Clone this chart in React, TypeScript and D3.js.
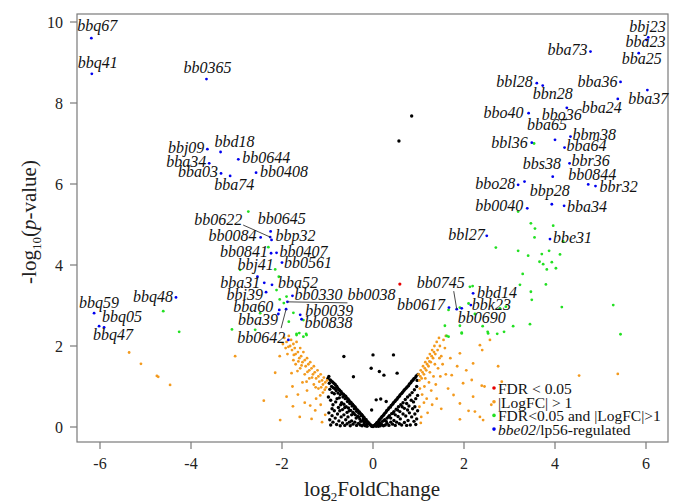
import React from "react";
import * as d3 from "d3";

// ---------- DATA ----------
const xTicks = [-6, -4, -2, 0, 2, 4, 6];
const yTicks = [0, 2, 4, 6, 8, 10];

// bbe02/lp56-regulated genes (blue)
const geneNames = [
  "bbq67", "bbq41", "bb0365", "bbj09", "bbd18", "bb0644", "bba34", "bba03", "bba74", "bb0408",
  "bb0622", "bb0645", "bb0084", "bbp32", "bb0841", "bb0407", "bb0561", "bbj41", "bba31", "bba52",
  "bbi39", "bb0330", "bb0038", "bba60", "bba39", "bb0039", "bb0838", "bb0642", "bbq48", "bbq59",
  "bbq05", "bbq47", "bbj23", "bba23", "bba25", "bba73", "bbl28", "bbn28", "bba36", "bba37",
  "bba24", "bbo40", "bbo36", "bba65", "bbl36", "bbm38", "bba64", "bbr36", "bbs38", "bb0844",
  "bbr32", "bbo28", "", "bbp28", "bba34 ", "bb0040", "bbl27", "bbe31", "bb0745", "bb0617",
  "bbd14", "bbk23", "bb0690", " ",
];
const geneFC = [
  -6.19, -6.18, -3.66, -3.64, -3.35, -2.96, -3.6, -3.34, -3.14, -2.57,
  -2.26, -2.25, -2.47, -2.23, -2.24, -2.12, -2.0, -2.54, -2.39, -2.22,
  -2.35, -1.77, -1.88, -2.06, -1.91, -1.6, -1.57, -1.86, -4.33, -6.13,
  -5.91, -6.02, 6.05, 6.01, 5.84, 4.78, 3.6, 3.73, 5.44, 6.03,
  5.38, 3.42, 4.26, 4.0, 3.49, 4.34, 4.21, 4.32, 3.95, 4.73,
  4.89, 3.19, 3.33, 3.93, 4.2, 3.39, 2.5, 3.89, 1.84, 1.67,
  2.2, 2.15, 1.95, -2.08,
];
const geneLogP = [
  9.6, 8.72, 8.59, 6.86, 6.79, 6.61, 6.51, 6.26, 6.2, 6.28,
  4.69, 4.83, 4.68, 4.62, 4.29, 4.3, 4.06, 3.71, 3.56, 3.51,
  3.33, 3.24, 3.09, 2.89, 2.91, 2.77, 2.66, 2.15, 3.2, 2.81,
  2.46, 2.49, 9.62, 9.56, 9.23, 9.27, 8.49, 8.43, 8.52, 8.32,
  8.1, 7.75, 7.88, 7.09, 7.02, 7.17, 6.9, 6.51, 6.18, 5.99,
  5.95, 5.98, 6.06, 5.5, 5.46, 5.4, 4.72, 4.64, 2.91, 2.95,
  3.3, 3.01, 2.93, 2.79,
];

// FDR<0.05 and |LogFC|>1 (green)
const sigPoints: [number, number][] = [
  [-4.61, 2.86], [-4.26, 2.35], [-3.1, 2.41], [-2.59, 2.4], [-2.92, 3.88], [-2.74, 5.32],
  [-2.3, 4.44], [-2.15, 3.89], [-2.07, 3.71], [-2.12, 3.38], [-1.9, 3.22], [-1.96, 3.06],
  [-2.48, 2.81], [-1.75, 2.82], [-1.68, 2.3], [-1.47, 2.3], [-1.53, 2.64], [-1.62, 2.32],
  [-2.05, 3.15], [-1.85, 2.6], [-1.68, 2.27], [-1.53, 2.23], [-1.46, 2.27],
  [3.47, 5.03], [3.56, 4.9], [3.96, 4.97], [3.55, 4.68], [4.18, 4.58], [2.7, 4.43],
  [3.19, 4.35], [3.41, 4.23], [3.71, 4.27], [3.87, 4.35], [4.11, 4.26], [3.66, 4.08],
  [3.74, 4.02], [3.93, 4.07], [3.82, 3.89], [4.02, 3.92], [3.29, 3.78], [3.23, 3.51],
  [3.8, 3.52], [3.47, 3.34], [2.13, 3.46], [2.19, 3.48], [3.49, 3.14], [4.15, 2.96],
  [5.28, 3.01], [1.66, 2.89], [1.91, 2.95], [2.1, 3.05], [2.24, 2.79], [2.79, 2.93],
  [2.92, 2.97], [1.58, 2.5], [1.91, 2.5], [2.41, 2.49], [3.08, 2.49], [3.45, 2.54],
  [2.52, 2.35], [2.73, 2.3], [2.88, 2.35], [1.95, 2.31], [5.44, 2.29], [1.66, 2.23],
  [3.19, 5.32], [3.54, 7.0], [1.62, 2.25], [1.95, 2.33], [2.53, 2.31],
];

// |LogFC|>1 (orange)
const fcPoints: [number, number][] = [
  [-1.95, 2.2], [-1.9, 2.1], [-1.85, 2.25], [-1.82, 2.0], [-1.8, 2.15], [-1.78, 1.9], [-1.75, 2.05],
  [-1.72, 1.95], [-1.7, 1.8], [-1.68, 2.1], [-1.65, 1.85], [-1.62, 1.7], [-1.6, 1.95], [-1.58, 1.75],
  [-1.55, 1.6], [-1.53, 1.85], [-1.5, 1.65], [-1.48, 1.5], [-1.45, 1.7], [-1.42, 1.55], [-1.4, 1.4],
  [-1.38, 1.6], [-1.35, 1.45], [-1.32, 1.3], [-1.3, 1.5], [-1.28, 1.35], [-1.25, 1.2], [-1.22, 1.4],
  [-1.2, 1.25], [-1.18, 1.12], [-1.15, 1.3], [-1.12, 1.15], [-1.1, 1.05], [-1.08, 1.22], [-1.05, 1.1],
  [-1.03, 0.98], [-1.01, 1.15], [-1.7, 1.55], [-1.6, 1.45], [-1.5, 1.3], [-1.4, 1.2], [-1.3, 1.05],
  [-1.2, 0.95], [-1.1, 0.85], [-1.88, 1.8], [-1.75, 1.65], [-1.92, 1.95], [-1.64, 1.62], [-1.44, 1.36],
  [-1.26, 0.98], [-1.16, 0.78], [-1.98, 2.05], [-1.86, 1.98], [-1.74, 1.78], [-1.57, 1.52],
  [-1.34, 1.22], [-1.14, 0.98], [-1.06, 0.92], [-1.66, 1.38], [-1.46, 1.12],
  [-2.15, 1.34], [-2.04, 0.17], [-1.79, 1.33], [-1.77, 1.0], [-1.76, 0.51], [-1.61, 0.25], [-1.27, 0.41],
  [-1.38, 0.53], [-1.15, 0.55], [-1.45, 0.9], [-1.9, 0.75], [-2.05, 1.75], [-1.05, 0.3], [-1.25, 0.7],
  [-1.55, 1.1], [-1.65, 0.8], [-5.36, 1.84], [-5.1, 1.56], [-4.75, 1.26], [-4.72, 1.24], [-4.46, 1.04],
  [-3.03, 1.75], [-2.4, 0.65], [-1.35, 0.2], [-1.12, 0.12], [-1.5, 0.6],
  [1.0, 1.3], [1.02, 1.15], [1.05, 1.4], [1.07, 1.2], [1.1, 1.5], [1.12, 1.3], [1.15, 1.6], [1.17, 1.4],
  [1.2, 1.7], [1.22, 1.5], [1.25, 1.8], [1.27, 1.6], [1.3, 1.9], [1.32, 1.7], [1.35, 2.0], [1.37, 1.8],
  [1.4, 2.1], [1.42, 1.9], [1.45, 2.2], [1.47, 2.0], [1.5, 1.75], [1.55, 2.15], [1.6, 2.25], [1.58, 1.95],
  [1.03, 0.95], [1.08, 0.8], [1.13, 1.0], [1.18, 0.7], [1.23, 1.1], [1.28, 0.9], [1.33, 1.25], [1.38, 1.05],
  [1.43, 1.45], [1.48, 1.25], [1.53, 1.55], [1.02, 0.5], [1.06, 0.25], [1.12, 0.6], [1.2, 0.35], [1.3, 0.55],
  [1.4, 0.7], [1.5, 0.45], [1.6, 1.3], [1.05, 0.1], [1.15, 1.2], [1.25, 1.35], [1.36, 1.55], [1.46, 1.7],
  [1.04, 1.25], [1.09, 1.35], [1.14, 1.45], [1.19, 1.55], [1.24, 1.62], [1.29, 1.75], [1.34, 1.85],
  [1.91, 1.82], [2.2, 1.57], [2.35, 2.02], [2.57, 2.15], [1.73, 1.28], [1.98, 1.08], [1.77, 0.79],
  [1.91, 0.58], [2.2, 0.75], [2.35, 0.25], [1.91, 0.19], [2.05, 1.4], [2.45, 1.0], [2.6, 0.55],
  [2.75, 1.5], [2.83, 1.12], [2.4, 1.9], [1.7, 1.7], [2.1, 0.4], [2.17, 1.16], [2.39, 1.02],
  [2.24, 0.38], [2.42, 0.17], [4.53, 1.27], [5.38, 1.31], [1.65, 0.95], [1.85, 1.5],
];

// FDR<0.05 only (red)
const fdrPoints: [number, number][] = [[0.59, 3.53]];

// not significant (black)
const nsPoints: [number, number][] = [
  [-0.99, 1.2], [-0.97, 1.25], [-0.96, 1.08], [-0.94, 1.16], [-0.95, 0.93], [-0.92, 1.14], [-0.91, 1.0],
  [-0.9, 0.85], [-0.89, 1.11], [-0.87, 0.97], [-0.86, 1.08], [-0.85, 0.82], [-0.84, 0.95], [-0.83, 1.05],
  [-0.81, 0.9], [-0.8, 1.01], [-0.79, 0.7], [-0.78, 0.97], [-0.77, 0.84], [-0.75, 0.93], [-0.74, 0.72],
  [-0.73, 0.9], [-0.72, 0.8], [-0.7, 0.87], [-0.69, 0.6], [-0.68, 0.83], [-0.66, 0.74], [-0.65, 0.81],
  [-0.64, 0.56], [-0.63, 0.78], [-0.61, 0.7], [-0.6, 0.76], [-0.59, 0.5], [-0.58, 0.72], [-0.56, 0.63],
  [-0.55, 0.69], [-0.54, 0.47], [-0.53, 0.66], [-0.51, 0.58], [-0.5, 0.62], [-0.49, 0.41], [-0.48, 0.6],
  [-0.46, 0.52], [-0.45, 0.56], [-0.44, 0.36], [-0.43, 0.53], [-0.41, 0.45], [-0.4, 0.5], [-0.39, 0.3],
  [-0.38, 0.47], [-0.36, 0.39], [-0.35, 0.43], [-0.34, 0.26], [-0.33, 0.4], [-0.31, 0.34], [-0.3, 0.37],
  [-0.29, 0.2], [-0.28, 0.34], [-0.26, 0.28], [-0.25, 0.31], [-0.24, 0.15], [-0.23, 0.28], [-0.21, 0.22],
  [-0.2, 0.24], [-0.19, 0.11], [-0.18, 0.2], [-0.16, 0.15], [-0.15, 0.18], [-0.14, 0.07], [-0.12, 0.13],
  [-0.11, 0.09], [-0.09, 0.1], [-0.07, 0.06], [-0.05, 0.05], [-0.03, 0.02],
  [-0.98, 0.74], [-0.93, 0.66], [-0.88, 0.55], [-0.82, 0.62], [-0.76, 0.48], [-0.71, 0.55], [-0.67, 0.43],
  [-0.62, 0.48], [-0.57, 0.36], [-0.52, 0.4], [-0.47, 0.3], [-0.42, 0.33], [-0.37, 0.22], [-0.32, 0.25],
  [-0.27, 0.14], [-0.22, 0.16],
  [-0.97, 0.35], [-0.95, 0.18], [-0.93, 0.05], [-0.9, 0.28], [-0.88, 0.12], [-0.85, 0.4], [-0.83, 0.22],
  [-0.8, 0.06], [-0.78, 0.32], [-0.75, 0.15], [-0.72, 0.03], [-0.7, 0.25], [-0.67, 0.1], [-0.64, 0.3],
  [-0.62, 0.04], [-0.6, 0.18], [-0.57, 0.08], [-0.55, 0.25], [-0.52, 0.12], [-0.5, 0.03], [-0.47, 0.15],
  [-0.44, 0.07], [-0.4, 0.12], [-0.36, 0.04], [-0.32, 0.09], [-0.28, 0.05], [-0.24, 0.03], [-0.2, 0.06],
  [-0.17, 0.03], [-0.13, 0.02], [-0.9, 0.45], [-0.73, 0.4],
  [0.03, 0.03], [0.05, 0.06], [0.07, 0.02], [0.08, 0.1], [0.1, 0.12], [0.12, 0.06], [0.13, 0.16],
  [0.15, 0.19], [0.16, 0.1], [0.18, 0.23], [0.2, 0.26], [0.21, 0.14], [0.23, 0.29], [0.25, 0.33],
  [0.26, 0.18], [0.28, 0.36], [0.3, 0.4], [0.31, 0.22], [0.33, 0.43], [0.35, 0.47], [0.36, 0.28],
  [0.38, 0.49], [0.4, 0.53], [0.41, 0.33], [0.43, 0.56], [0.45, 0.6], [0.46, 0.38], [0.48, 0.63],
  [0.5, 0.66], [0.51, 0.44], [0.53, 0.69], [0.55, 0.73], [0.56, 0.5], [0.58, 0.76], [0.6, 0.8],
  [0.61, 0.55], [0.63, 0.83], [0.65, 0.86], [0.66, 0.6], [0.68, 0.9], [0.7, 0.93], [0.71, 0.68],
  [0.73, 0.96], [0.75, 0.99], [0.76, 0.74], [0.78, 1.02], [0.8, 1.06], [0.81, 0.79], [0.83, 1.09],
  [0.85, 1.13], [0.86, 0.85], [0.88, 1.16], [0.9, 1.19], [0.91, 0.92], [0.93, 1.22], [0.95, 1.26],
  [0.96, 1.0], [0.97, 1.15], [0.99, 1.3],
  [0.98, 0.78], [0.94, 0.7], [0.89, 0.62], [0.84, 0.66], [0.79, 0.52], [0.74, 0.58], [0.69, 0.46],
  [0.64, 0.5], [0.59, 0.38], [0.54, 0.42], [0.49, 0.3], [0.44, 0.34], [0.39, 0.22], [0.34, 0.25],
  [0.29, 0.14], [0.24, 0.16],
  [0.98, 0.4], [0.96, 0.2], [0.94, 0.06], [0.92, 0.32], [0.9, 0.14], [0.87, 0.45], [0.85, 0.25],
  [0.82, 0.05], [0.8, 0.35], [0.77, 0.16], [0.74, 0.04], [0.72, 0.27], [0.69, 0.11], [0.66, 0.32],
  [0.63, 0.05], [0.6, 0.2], [0.58, 0.08], [0.55, 0.26], [0.52, 0.12], [0.49, 0.04], [0.46, 0.16],
  [0.43, 0.07], [0.39, 0.12], [0.35, 0.04], [0.31, 0.09], [0.27, 0.05], [0.23, 0.03], [0.19, 0.06],
  [0.16, 0.03], [0.12, 0.02], [0.92, 0.5], [0.76, 0.42], [0.0, 0.01], [-0.01, 0.02], [0.01, 0.03],
  [-0.64, 1.74], [0.0, 1.78], [0.45, 1.78], [-0.04, 1.45], [0.14, 1.37], [0.24, 1.28], [0.53, 1.33],
  [-0.43, 1.24], [0.07, 0.67], [0.17, 0.69], [0.29, 0.63], [-0.03, 0.42], [0.85, 7.68], [0.57, 7.06],
];

const legendLabels = ["FDR < 0.05", "|LogFC| > 1", "FDR<0.05 and |LogFC|>1", "/lp56-regulated"];

// ---------- LAYOUT / STYLE ----------
const W = 680, H = 504;
const frame = { left: 77, right: 668, top: 14, bottom: 442 };
const COL = { ns: "#000000", fc: "#f39a1e", sig: "#22e022", fdr: "#e80000", reg: "#0000f0" };
const SERIF = "'Liberation Serif', 'Times New Roman', Times, serif";

// label placement per gene: [anchor, dx, dy, leaderDx?, leaderDy?]
type Lay = [string, number, number, number?, number?];
const labelLayout: Lay[] = [
  ["start", -14, -7], ["start", -14, -6], ["start", -23, -6], ["end", -3, 4], ["start", -6, -5],
  ["start", 4, 4], ["end", -3, 4], ["end", -3, 4], ["start", -16, 14], ["start", 4, 4],
  ["end", -28, -12, -27, -12], ["start", -13, -7], ["end", -4, 4], ["start", 4, 1], ["end", -3, 4],
  ["start", 3, 4], ["start", 2, 5], ["start", -20, -7], ["end", -4, 5], ["start", 6, 3],
  ["end", -3, 8], ["start", 2, 4], ["start", 60, -2, 60, 1], ["end", -6, 2], ["end", -8, 16, -5, 19],
  ["start", 5, 1], ["start", 3, 9], ["end", -3, 3], ["end", -3, 5], ["start", -15, -5],
  ["start", -2, -5], ["start", -6, 14], ["start", -19, -5], ["start", -21, 7], ["start", -17, 11],
  ["end", -3, 3], ["end", -4, 4], ["start", -10, 13], ["end", -3, 5], ["start", -19, 14],
  ["start", -36, 14], ["end", -5, 5], ["start", -25, 12], ["start", -28, -10], ["end", -4, 5],
  ["start", 2, 3], ["start", 2, 3], ["start", 2, 3], ["start", -30, -8], ["start", -20, -4],
  ["start", 4, 6], ["end", -3, 4], ["start", 0, 0], ["start", -22, -8], ["start", 3, 6],
  ["end", -4, 3], ["end", -2, 4], ["start", 3, 4], ["start", -40, -21, -3, -18], ["end", -4, 2],
  ["start", 4, 5], ["start", 1, 5], ["start", -4, 15], ["start", 0, 0],
];

export default function App() {
  const x = d3.scaleLinear().domain([-6, 6]).range([100, 646]);
  const y = d3.scaleLinear().domain([0, 10]).range([427, 22]);

  const dot = (pts: [number, number][], color: string, r: number, key: string) =>
    pts.map((p, i) => <circle key={key + i} cx={x(p[0])} cy={y(p[1])} r={r} fill={color} />);

  const genes = geneNames.map((n, i) => ({ name: n, fc: geneFC[i], lp: geneLogP[i], lay: labelLayout[i] }));
  const legendColors = [COL.fdr, COL.fc, COL.sig, COL.reg];

  return (
    <svg width={W} height={H} style={{ position: "absolute", left: 0, top: 0, background: "#fff" }}
      fontFamily={SERIF}>
      <rect x={0} y={0} width={W} height={H} fill="#fff" />
      {/* frame */}
      <rect x={frame.left} y={frame.top} width={frame.right - frame.left} height={frame.bottom - frame.top}
        fill="none" stroke="#7a7a7a" strokeWidth={1.2} />
      {/* x axis */}
      {xTicks.map((t) => (
        <g key={"xt" + t}>
          <line x1={x(t)} x2={x(t)} y1={frame.bottom} y2={frame.bottom + 7} stroke="#7a7a7a" strokeWidth={1.2} />
          <text x={x(t)} y={469} textAnchor="middle" fontSize={16} fill="#222">{t}</text>
        </g>
      ))}
      {yTicks.map((t) => (
        <g key={"yt" + t}>
          <line x1={frame.left - 7} x2={frame.left} y1={y(t)} y2={y(t)} stroke="#7a7a7a" strokeWidth={1.2} />
          <text x={63} y={y(t) + 5.5} textAnchor="end" fontSize={16} fill="#222">{t}</text>
        </g>
      ))}
      <text x={372} y={496} textAnchor="middle" fontSize={21} fill="#222">
        <tspan>log</tspan>
        <tspan dy={5} fontSize={13}>2</tspan>
        <tspan dy={-5}>FoldChange</tspan>
      </text>
      <text transform="translate(36,222) rotate(-90)" textAnchor="middle" fontSize={21} fill="#222">
        <tspan>-log</tspan>
        <tspan dy={5} fontSize={13}>10</tspan>
        <tspan dy={-5}>(</tspan>
        <tspan fontStyle="italic">p</tspan>
        <tspan>-value)</tspan>
      </text>

      {/* points */}
      {dot(nsPoints, COL.ns, 1.7, "ns")}
      {dot(fcPoints, COL.fc, 1.4, "fc")}
      {dot(sigPoints, COL.sig, 1.4, "sg")}
      {dot(fdrPoints, COL.fdr, 1.6, "fd")}
      {genes.map((g, i) => <circle key={"g" + i} cx={x(g.fc)} cy={y(g.lp)} r={1.4} fill={COL.reg} />)}

      {/* leader lines & labels */}
      {genes.map((g, i) => {
        const px = x(g.fc), py = y(g.lp);
        const [anchor, dx, dy, lx, ly] = g.lay;
        return (
          <g key={"l" + i}>
            {lx !== undefined && (
              <line x1={px} y1={py} x2={px + lx} y2={py + (ly as number)} stroke="#333" strokeWidth={0.9} />
            )}
            {g.name.trim() && (
              <text x={px + dx} y={py + dy} textAnchor={anchor} fontSize={16} fontStyle="italic" fill="#111">
                {g.name.trim()}
              </text>
            )}
          </g>
        );
      })}

      {/* legend */}
      {legendLabels.map((l, i) => {
        const ly = 388 + i * 13.7;
        return (
          <g key={"lg" + i}>
            <circle cx={494} cy={ly} r={1.8} fill={legendColors[i]} />
            <text x={498} y={ly + 6} fontSize={15.5} fill="#111">
              {i === 3 && <tspan fontStyle="italic">bbe02</tspan>}
              {l}
            </text>
          </g>
        );
      })}
    </svg>
  );
}
